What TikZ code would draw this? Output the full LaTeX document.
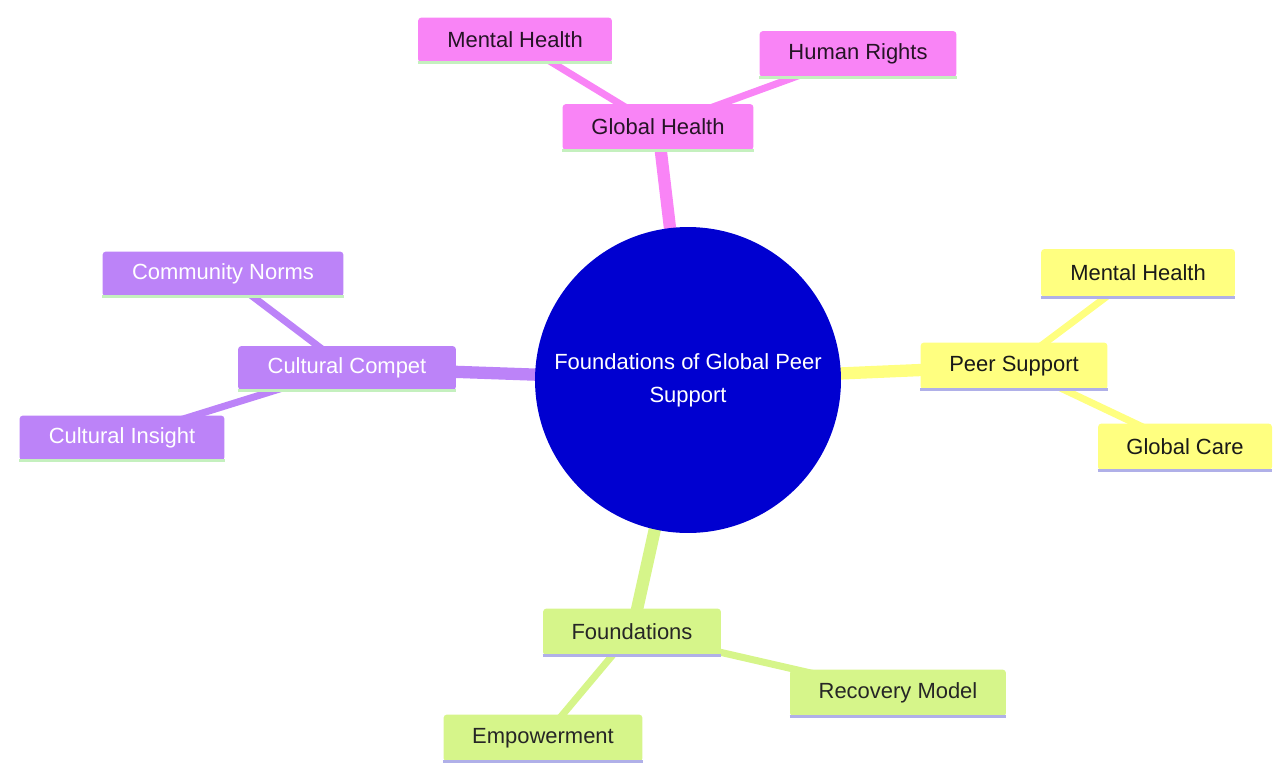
\documentclass[tikz,border=0pt]{standalone}
\usepackage{fontspec}
\setmainfont{Liberation Sans}
\usetikzlibrary{backgrounds}
\definecolor{pinkfill}{RGB}{249,132,246}
\definecolor{purplefill}{RGB}{188,131,248}
\definecolor{yellowfill}{RGB}{255,255,128}
\definecolor{greenfill}{RGB}{214,245,138}
\definecolor{centerblue}{RGB}{0,0,208}
\definecolor{greenline}{RGB}{196,240,190}
\definecolor{lavline}{RGB}{176,176,232}
\tikzset{
    box/.style={rectangle,rounded corners=2pt,inner sep=0pt,font=\fontsize{12.5}{15}\selectfont},
    pinkbox/.style={box,fill=pinkfill,text={black!85!pinkfill}},
    purplebox/.style={box,fill=purplefill,text=white},
    yellowbox/.style={box,fill=yellowfill,text=black!90},
    greenbox/.style={box,fill=greenfill,text=black!85},
    mainedge/.style={line width=7pt},
    subedge/.style={line width=4pt},
}
\begin{document}
\begin{tikzpicture}[x=0.02cm,y=-0.02cm]
    \useasboundingbox (0,0) rectangle (1274,762);
    % centre
    \node[circle,fill=centerblue,text=white,minimum size=6.12cm,align=center,font=\fontsize{12.5}{18.7}\selectfont](root)at(688,380){Foundations of Global Peer\\Support};
    % global health branch
    \node[pinkbox,minimum width=3.82cm,minimum height=0.92cm](gh)at(658,127){Global Health};
    \node[pinkbox,minimum width=3.88cm,minimum height=0.9cm](ghmh)at(515,40){Mental Health};
    \node[pinkbox,minimum width=3.94cm,minimum height=0.92cm](ghhr)at(858,54){Human Rights};
    % peer support branch
    \node[yellowbox,minimum width=3.74cm,minimum height=0.94cm](ps)at(1014,366){Peer Support};
    \node[yellowbox,minimum width=3.88cm,minimum height=0.96cm](psmh)at(1138,273){Mental Health};
    \node[yellowbox,minimum width=3.48cm,minimum height=0.94cm](psgc)at(1185,447){Global Care};
    % cultural branch
    \node[purplebox,minimum width=4.36cm,minimum height=0.88cm](cc)at(347,368){Cultural Compet};
    \node[purplebox,minimum width=4.82cm,minimum height=0.9cm](cccn)at(223,274){Community Norms};
    \node[purplebox,minimum width=4.1cm,minimum height=0.9cm](ccci)at(122,438){Cultural Insight};
    % foundations branch
    \node[greenbox,minimum width=3.56cm,minimum height=0.94cm](fd)at(632,632){Foundations};
    \node[greenbox,minimum width=4.32cm,minimum height=0.94cm](fdrm)at(898,693){Recovery Model};
    \node[greenbox,minimum width=3.98cm,minimum height=0.94cm](fdem)at(543,738){Empowerment};
    % underlines
    \foreach \n in {gh,ghmh,ghhr,cc,cccn,ccci} \draw[greenline,line width=1.7pt] (\n.south west) -- (\n.south east);
    \foreach \n in {ps,psmh,psgc,fd,fdrm,fdem} \draw[lavline,line width=1.7pt] (\n.south west) -- (\n.south east);
    \begin{scope}[on background layer]
        \draw[mainedge,pinkfill](root.center)--(gh.center);
        \draw[mainedge,yellowfill](root.center)--(ps.center);
        \draw[mainedge,purplefill](root.center)--(cc.center);
        \draw[mainedge,greenfill](root.center)--(fd.center);
        \draw[subedge,pinkfill](gh.center)--(ghmh.center);
        \draw[subedge,pinkfill](gh.center)--(ghhr.center);
        \draw[subedge,yellowfill](ps.center)--(psmh.center);
        \draw[subedge,yellowfill](ps.center)--(psgc.center);
        \draw[subedge,purplefill](cc.center)--(cccn.center);
        \draw[subedge,purplefill](cc.center)--(ccci.center);
        \draw[subedge,greenfill](fd.center)--(fdrm.center);
        \draw[subedge,greenfill](fd.center)--(fdem.center);
    \end{scope}
\end{tikzpicture}
\end{document}
